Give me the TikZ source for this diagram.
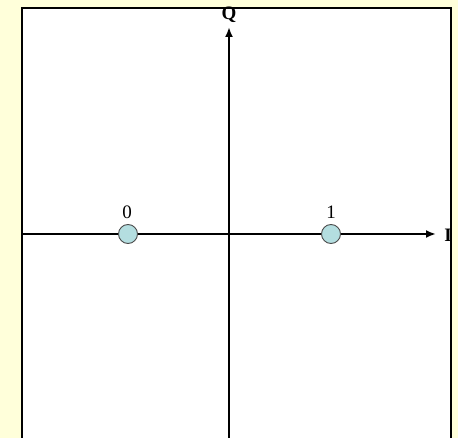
\documentclass[tikz,border=0pt]{standalone}
\usepackage{fontspec}
\setmainfont{Liberation Serif}
\usetikzlibrary{arrows.meta}
\definecolor{dotfill}{RGB}{180,222,224}
\definecolor{bgyel}{RGB}{255,255,218}
\begin{document}
\begin{tikzpicture}[x=1pt,y=-1pt,
  axis/.style={line width=2.4pt,-{Latex[length=10pt,width=8pt]}},
  dot/.style={circle,draw=black!70,line width=0.9pt,fill=dotfill,minimum size=19pt,inner sep=0pt},
  lbl/.style={font=\fontsize{19}{19}\selectfont,inner sep=0pt},
  axlbl/.style={font=\fontsize{19}{19}\selectfont\bfseries,inner sep=0pt}]
\fill[bgyel] (0,0) rectangle (458,438);
\useasboundingbox (0,0) rectangle (458,438);
\fill[white] (22,8) rectangle (451,445);
\draw[line width=2.6pt] (22,445) -- (22,8) -- (451,8) -- (451,445);
\coordinate (xl) at (22,234);
\coordinate (xr) at (436,234);
\coordinate (yb) at (229,440);
\coordinate (yt) at (229,27);
\draw[axis] (xl) -- (xr);
\draw[axis] (yb) -- (yt);
\node[axlbl] (I) at (448,235) {I};
\node[axlbl] (Q) at (229,15) {Q};
\node[dot] (d0) at (128,234) {};
\node[dot] (d1) at (331,234) {};
\node[lbl] (l0) at (127,212) {0};
\node[lbl] (l1) at (331,212) {1};
\end{tikzpicture}
\end{document}
